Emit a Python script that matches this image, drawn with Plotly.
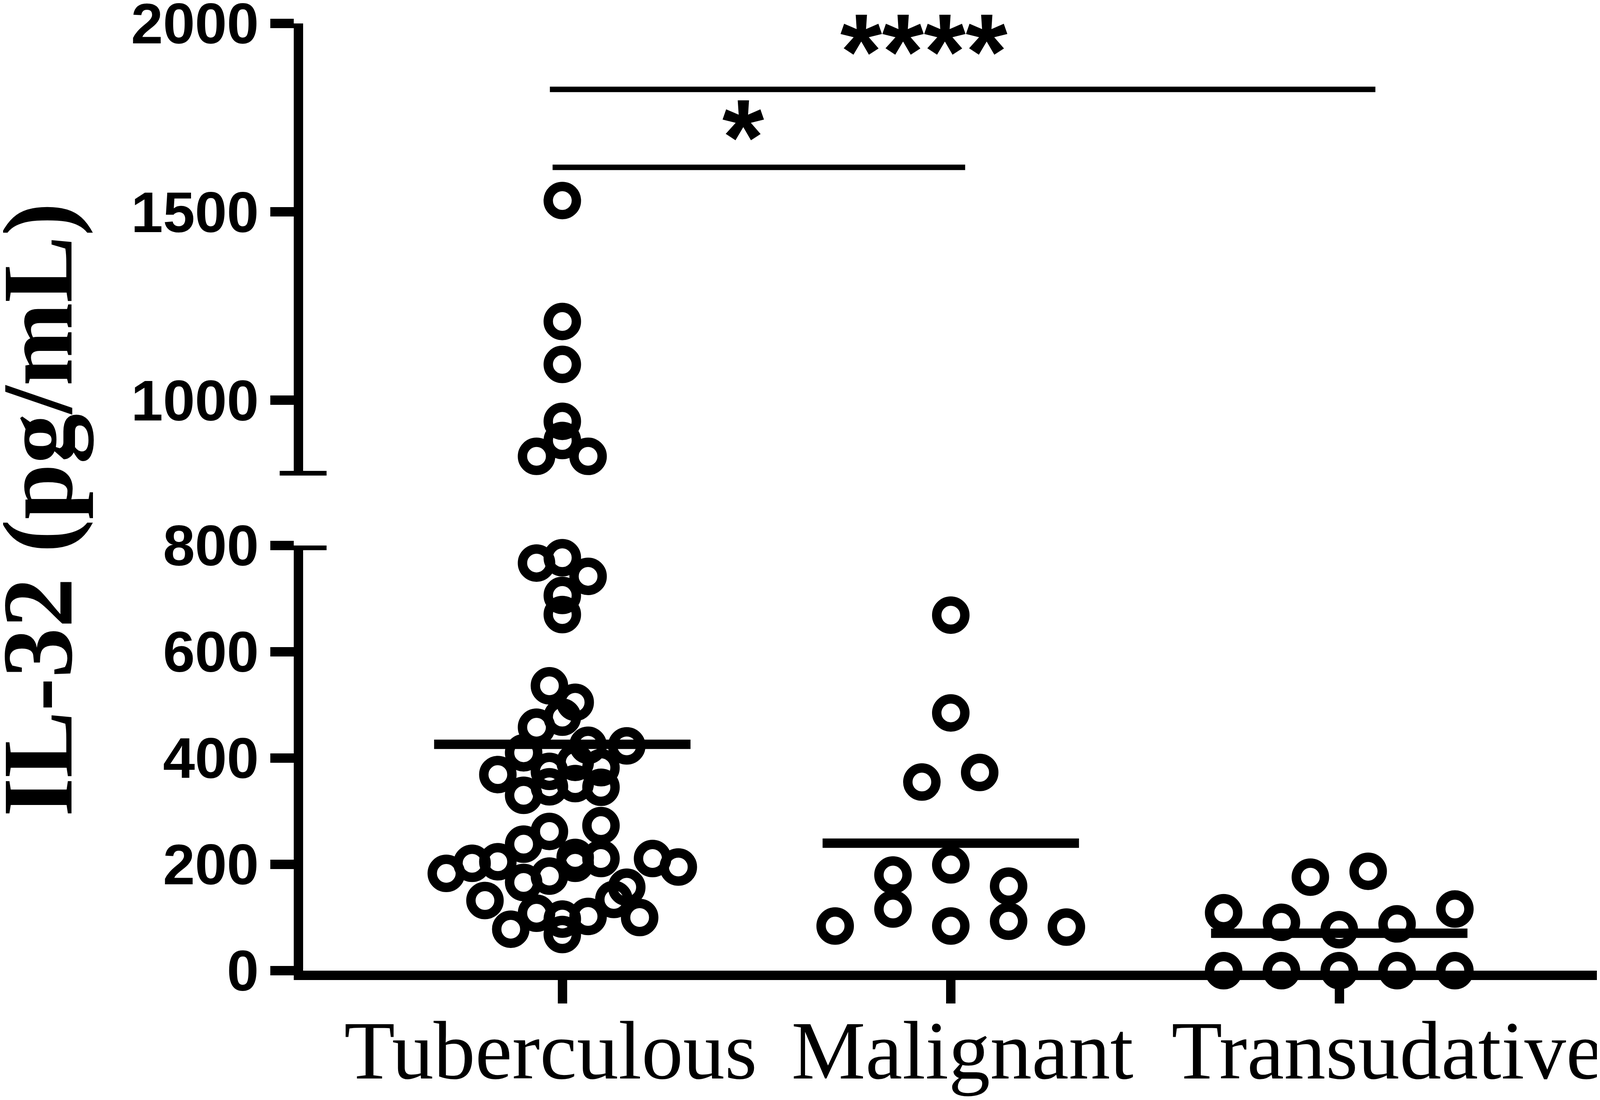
import numpy as np
import plotly.graph_objects as go

# IL-32 in pleural effusion (pg/mL)
groups = ["Tuberculous", "Malignant", "Transudative"]
tuberculous = [183, 369, 202, 410, 205, 132, 78, 375, 166, 108, 767, 851,
               392, 330, 238, 178, 97, 458, 706, 893, 1530, 1209, 1095,
               382, 262, 202, 102, 742, 670, 536, 944, 851, 423, 346, 213,
               134, 68, 777, 505, 352, 211, 157, 100, 477, 424, 345, 211,
               273, 195]
malignant = [669, 485, 355, 373, 180, 199, 159, 84, 116, 84, 93, 82]
transudative = [0, 0, 0, 0, 0, 109, 91, 77, 88, 116, 176, 187]
low_ticks = [0, 200, 400, 600, 800]
high_ticks = [1000, 1500, 2000]
sig_labels = ["*", "****"]

# page geometry (px)
W, H = 4102, 2815
ML, MT, MB = 768, 52, 339
PW, PH = W - ML, H - MT - MB
CAT_PX = 994.5
X_LEFT = -(1431.5 - ML) / CAT_PX
X_RIGHT = X_LEFT + PW / CAT_PX
BREAK, TOP = 800, 2000
LOW_H, HIGH_H = 1088, 1157
DOT = 96
LW = 24


def paper_y(px):
    return (MT + PH - px) / PH


def swarm(values, step_px):
    # Prism-like rows: bin by height of a dot, spread each row around centre
    low_ppu = LOW_H / BREAK
    high_ppu = HIGH_H / (TOP - BREAK)
    rows = {}
    for i, v in enumerate(values):
        if v < BREAK:
            key = ("low", int(v * low_ppu // DOT))
        else:
            key = ("high", int((v - BREAK) * high_ppu // DOT))
        rows.setdefault(key, []).append(i)
    dx = [0.0] * len(values)
    for idx in rows.values():
        n = len(idx)
        for k, i in enumerate(idx):
            dx[i] = (k - (n - 1) / 2) * step_px / CAT_PX
    return dx


series = [tuberculous, malignant, transudative]
steps = [66, 148, 148]

fig = go.Figure()
marker = dict(symbol="circle-open", size=DOT - LW, color="black",
              line=dict(width=LW, color="black"))

for gi, (vals, step) in enumerate(zip(series, steps)):
    dx = swarm(vals, step)
    xs = [gi + d for d in dx]
    lo = [(x, v) for x, v in zip(xs, vals) if v < BREAK]
    hi = [(x, v) for x, v in zip(xs, vals) if v >= BREAK]
    if lo:
        fig.add_trace(go.Scatter(x=[p[0] for p in lo], y=[p[1] for p in lo],
                                 mode="markers", marker=marker,
                                 cliponaxis=False, xaxis="x", yaxis="y"))
    if hi:
        fig.add_trace(go.Scatter(x=[p[0] for p in hi], y=[p[1] for p in hi],
                                 mode="markers", marker=marker,
                                 cliponaxis=False, xaxis="x", yaxis="y2"))
    m = float(np.mean(vals))
    fig.add_trace(go.Scatter(x=[gi - 0.33, gi + 0.33], y=[m, m], mode="lines",
                             line=dict(color="black", width=LW),
                             cliponaxis=False, xaxis="x", yaxis="y"))

# significance bars
bars = [(-0.025, 1.037, 1618, 0.466, 1731, -31),
        (-0.032, 2.093, 1825, 0.931, 1971, -44)]
shapes = []
annotations = []
for (x0, x1, yb, xt, yt, ys), lab in zip(bars, sig_labels):
    shapes.append(dict(type="line", xref="x", yref="y2", x0=x0, x1=x1,
                       y0=yb, y1=yb, line=dict(color="black", width=14)))
    annotations.append(dict(x=xt, y=yt, xref="x", yref="y2", text=lab,
                            showarrow=False, xanchor="center", yanchor="middle",
                            yshift=ys,
                            font=dict(family="Liberation Sans", size=275,
                                      color="black", weight="bold")))

# caps at the axis break
for yref in ["y", "y2"]:
    shapes.append(dict(type="line", xref="paper", yref=yref,
                       x0=(708 - ML) / PW, x1=(828 - ML) / PW,
                       y0=BREAK, y1=BREAK,
                       line=dict(color="black", width=LW)))

# category labels (Prism shifts them a little off the ticks)
label_shift = [-0.03, 0.03, 0.123]
for gi, (name, sh) in enumerate(zip(groups, label_shift)):
    annotations.append(dict(x=gi + sh, y=paper_y(2560), xref="x",
                            yref="paper", text=name, showarrow=False,
                            xanchor="center", yanchor="top",
                            font=dict(family="Liberation Serif", size=213,
                                      color="black")))

annotations.append(dict(x=(90 - ML) / PW, y=paper_y(1296),
                        xref="paper", yref="paper", text="IL-32 (pg/mL)",
                        textangle=-90, showarrow=False,
                        xanchor="center", yanchor="middle",
                        font=dict(family="Liberation Serif", size=256,
                                  color="black", weight="bold")))

ytick_font = dict(family="Liberation Sans", size=147, color="black",
                  weight="bold")
yaxis_common = dict(showline=True, linewidth=LW, linecolor="black",
                    ticks="outside", ticklen=60, tickwidth=LW,
                    tickcolor="black", showgrid=False, zeroline=False,
                    tickfont=ytick_font, anchor="x", automargin=False,
                    ticklabeloverflow="allow")

fig.update_layout(
    width=W, height=H,
    margin=dict(l=ML, r=0, t=MT, b=MB, autoexpand=False),
    paper_bgcolor="white", plot_bgcolor="white",
    showlegend=False,
    xaxis=dict(range=[X_LEFT, X_RIGHT], showline=True, linewidth=LW,
               linecolor="black", ticks="outside", ticklen=60, tickwidth=LW,
               tickcolor="black", tickvals=[0, 1, 2], showticklabels=False,
               showgrid=False, zeroline=False, anchor="y", automargin=False),
    yaxis=dict(domain=[0, LOW_H / PH], range=[0, BREAK],
               tickvals=low_ticks, **yaxis_common),
    yaxis2=dict(domain=[1 - HIGH_H / PH, 1], range=[BREAK, TOP],
                tickvals=high_ticks, **yaxis_common),
    shapes=shapes,
    annotations=annotations,
)

fig.write_html("out.html")
